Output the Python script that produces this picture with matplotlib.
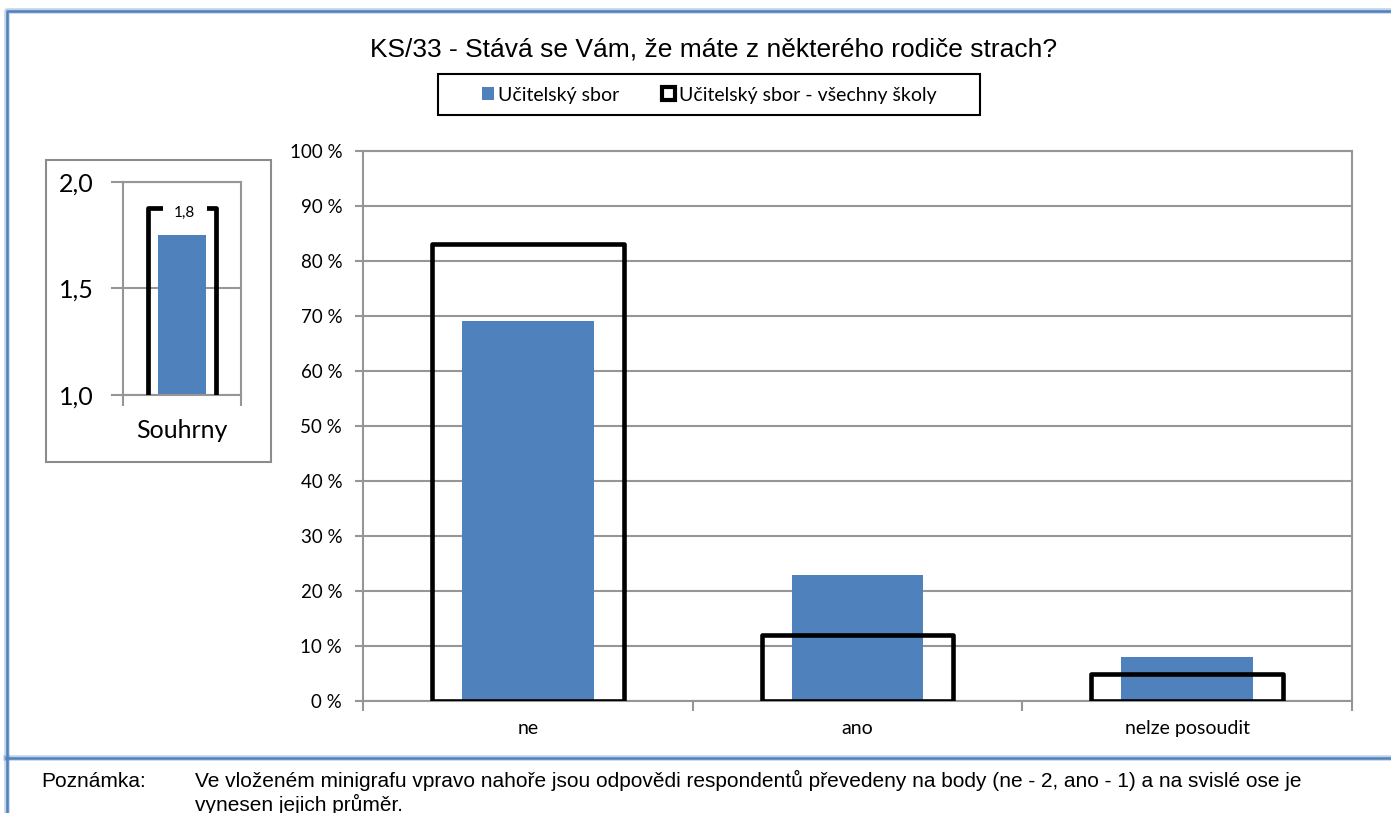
import numpy as np
import matplotlib
matplotlib.use("Agg")
import matplotlib.pyplot as plt
from matplotlib.patches import Rectangle, Patch
from matplotlib.lines import Line2D

# survey answers, share of respondents (%)
categories = ["ne", "ano", "nelze posoudit"]
school = [69, 23, 8]           # Učitelský sbor
all_schools = [83, 12, 5]      # Učitelský sbor - všechny školy

# summary mini chart (mean of points ne=2, ano=1)
summary_label = "Souhrny"
summary_school = 1.75
summary_all = 1.88

title = "KS/33 - Stává se Vám, že máte z některého rodiče strach?"
legend_labels = ["Učitelský sbor", "Učitelský sbor - všechny školy"]
note_head = "Poznámka:"
note_lines = ["Ve vloženém minigrafu vpravo nahoře jsou odpovědi respondentů převedeny na body (ne - 2, ano - 1) a na svislé ose je",
              "vynesen jejich průměr."]

BLUE = "#4F81BD"
GRID = "#969696"
CAL = "Lato"                # stand-in for Calibri
ARIAL = "Liberation Sans"

W, H = 1391, 813
fig = plt.figure(figsize=(W / 100, H / 100), dpi=100)
fig.patch.set_facecolor("white")

def fx(px):
    return px / W

def fy(py):
    return 1 - py / H

# frame lines of the sheet
for lw, a in [(4, 0.35), (1.8, 1.0)]:
    fig.add_artist(Line2D([fx(7), fx(7), fx(W)], [0, fy(11), fy(11)], color=BLUE, lw=lw, alpha=a))
    fig.add_artist(Line2D([fx(6), fx(W)], [fy(758), fy(758)], color=BLUE, lw=lw, alpha=a))

# ---- main chart
ax = fig.add_axes([fx(363), fy(701), fx(1352) - fx(363), fy(151) - fy(701)])
x = np.arange(len(categories))
ax.bar(x, school, width=0.40, color=BLUE, zorder=2)
ax.bar(x, all_schools, width=0.582, facecolor="none", edgecolor="black", lw=3.3,
       joinstyle="round", zorder=3)
ax.set_xlim(-0.5, len(categories) - 0.5)
ax.set_ylim(0, 100)
ax.set_yticks(np.arange(0, 101, 10))
ax.set_yticklabels([f"{v} %" for v in range(0, 101, 10)], fontfamily=CAL, fontsize=13.5)
ax.set_xticks(x)
ax.set_xticklabels(categories, fontfamily=CAL, fontsize=14)
ax.set_xticks(np.arange(-0.5, len(categories)), minor=True)
ax.tick_params(axis="x", which="major", length=0, pad=14)
ax.tick_params(axis="x", which="minor", length=7, width=1.5, color=GRID)
ax.tick_params(axis="y", length=6, width=1.5, color=GRID, pad=9)
ax.yaxis.grid(True, color=GRID, lw=1.5, zorder=0)
ax.set_axisbelow(True)
for s in ax.spines.values():
    s.set_color(GRID)
    s.set_linewidth(1.5)

# ---- summary mini chart
fig.add_artist(Rectangle((fx(46), fy(462)), fx(271) - fx(46), fy(160) - fy(462),
                         facecolor="none", edgecolor="#8c8c8c", lw=1.5))
ins = fig.add_axes([fx(123), fy(395), fx(241) - fx(123), fy(182) - fy(395)])
ins.bar([0], [summary_school], width=0.415, color=BLUE, zorder=2)
ins.bar([0], [summary_all], width=0.576, facecolor="none", edgecolor="black", lw=3.4,
        joinstyle="round", zorder=3)
ins.annotate(f"{summary_school:.1f}".replace(".", ","), xy=(0, summary_school),
             xytext=(2, 16), textcoords="offset points", ha="center", va="center",
             fontfamily=CAL, fontsize=11, zorder=5,
             bbox=dict(boxstyle="square,pad=0.75", fc="white", ec="none"))
ins.set_xlim(-0.5, 0.5)
ins.set_ylim(1.0, 2.0)
ins.set_yticks([1.0, 1.5, 2.0])
ins.set_yticklabels([f"{v:.1f}".replace(".", ",") for v in [1.0, 1.5, 2.0]],
                    fontfamily=CAL, fontsize=18)
ins.set_xticks([0])
ins.set_xticklabels([summary_label], fontfamily=CAL, fontsize=18)
ins.set_xticks([-0.5, 0.5], minor=True)
ins.tick_params(axis="x", which="major", length=0, pad=17)
ins.tick_params(axis="x", which="minor", length=8, width=1.5, color=GRID)
ins.tick_params(axis="y", length=9, width=1.5, color=GRID, pad=12)
ins.yaxis.grid(True, color=GRID, lw=1.5, zorder=0)
ins.set_axisbelow(True)
for s in ins.spines.values():
    s.set_color(GRID)
    s.set_linewidth(1.5)

# ---- title and legend
fig.text(fx(714), fy(57), title, fontfamily=ARIAL, fontsize=19, va="baseline", ha="center")
handles = [Patch(facecolor=BLUE, edgecolor="none"),
           Patch(facecolor="white", edgecolor="black", lw=3)]
fig.legend(handles, legend_labels, loc="center", bbox_to_anchor=(fx(709), fy(95)),
           ncol=2, frameon=False, prop={"family": CAL, "size": 14},
           handlelength=0.65, handleheight=0.65, handletextpad=0.2,
           columnspacing=2.2, borderpad=0, borderaxespad=0)
fig.add_artist(Rectangle((fx(438), fy(115)), fx(980) - fx(438), fy(74) - fy(115),
                         facecolor="none", edgecolor="black", lw=1.5))

# ---- note under the chart
fig.text(fx(41), fy(787), note_head, fontfamily=ARIAL, fontsize=15, va="baseline")
fig.text(fx(195), fy(787), note_lines[0], fontfamily=ARIAL, fontsize=15, va="baseline")
fig.text(fx(195), fy(811), note_lines[1], fontfamily=ARIAL, fontsize=15, va="baseline")

fig.savefig("out.png", dpi=100, facecolor="white")
